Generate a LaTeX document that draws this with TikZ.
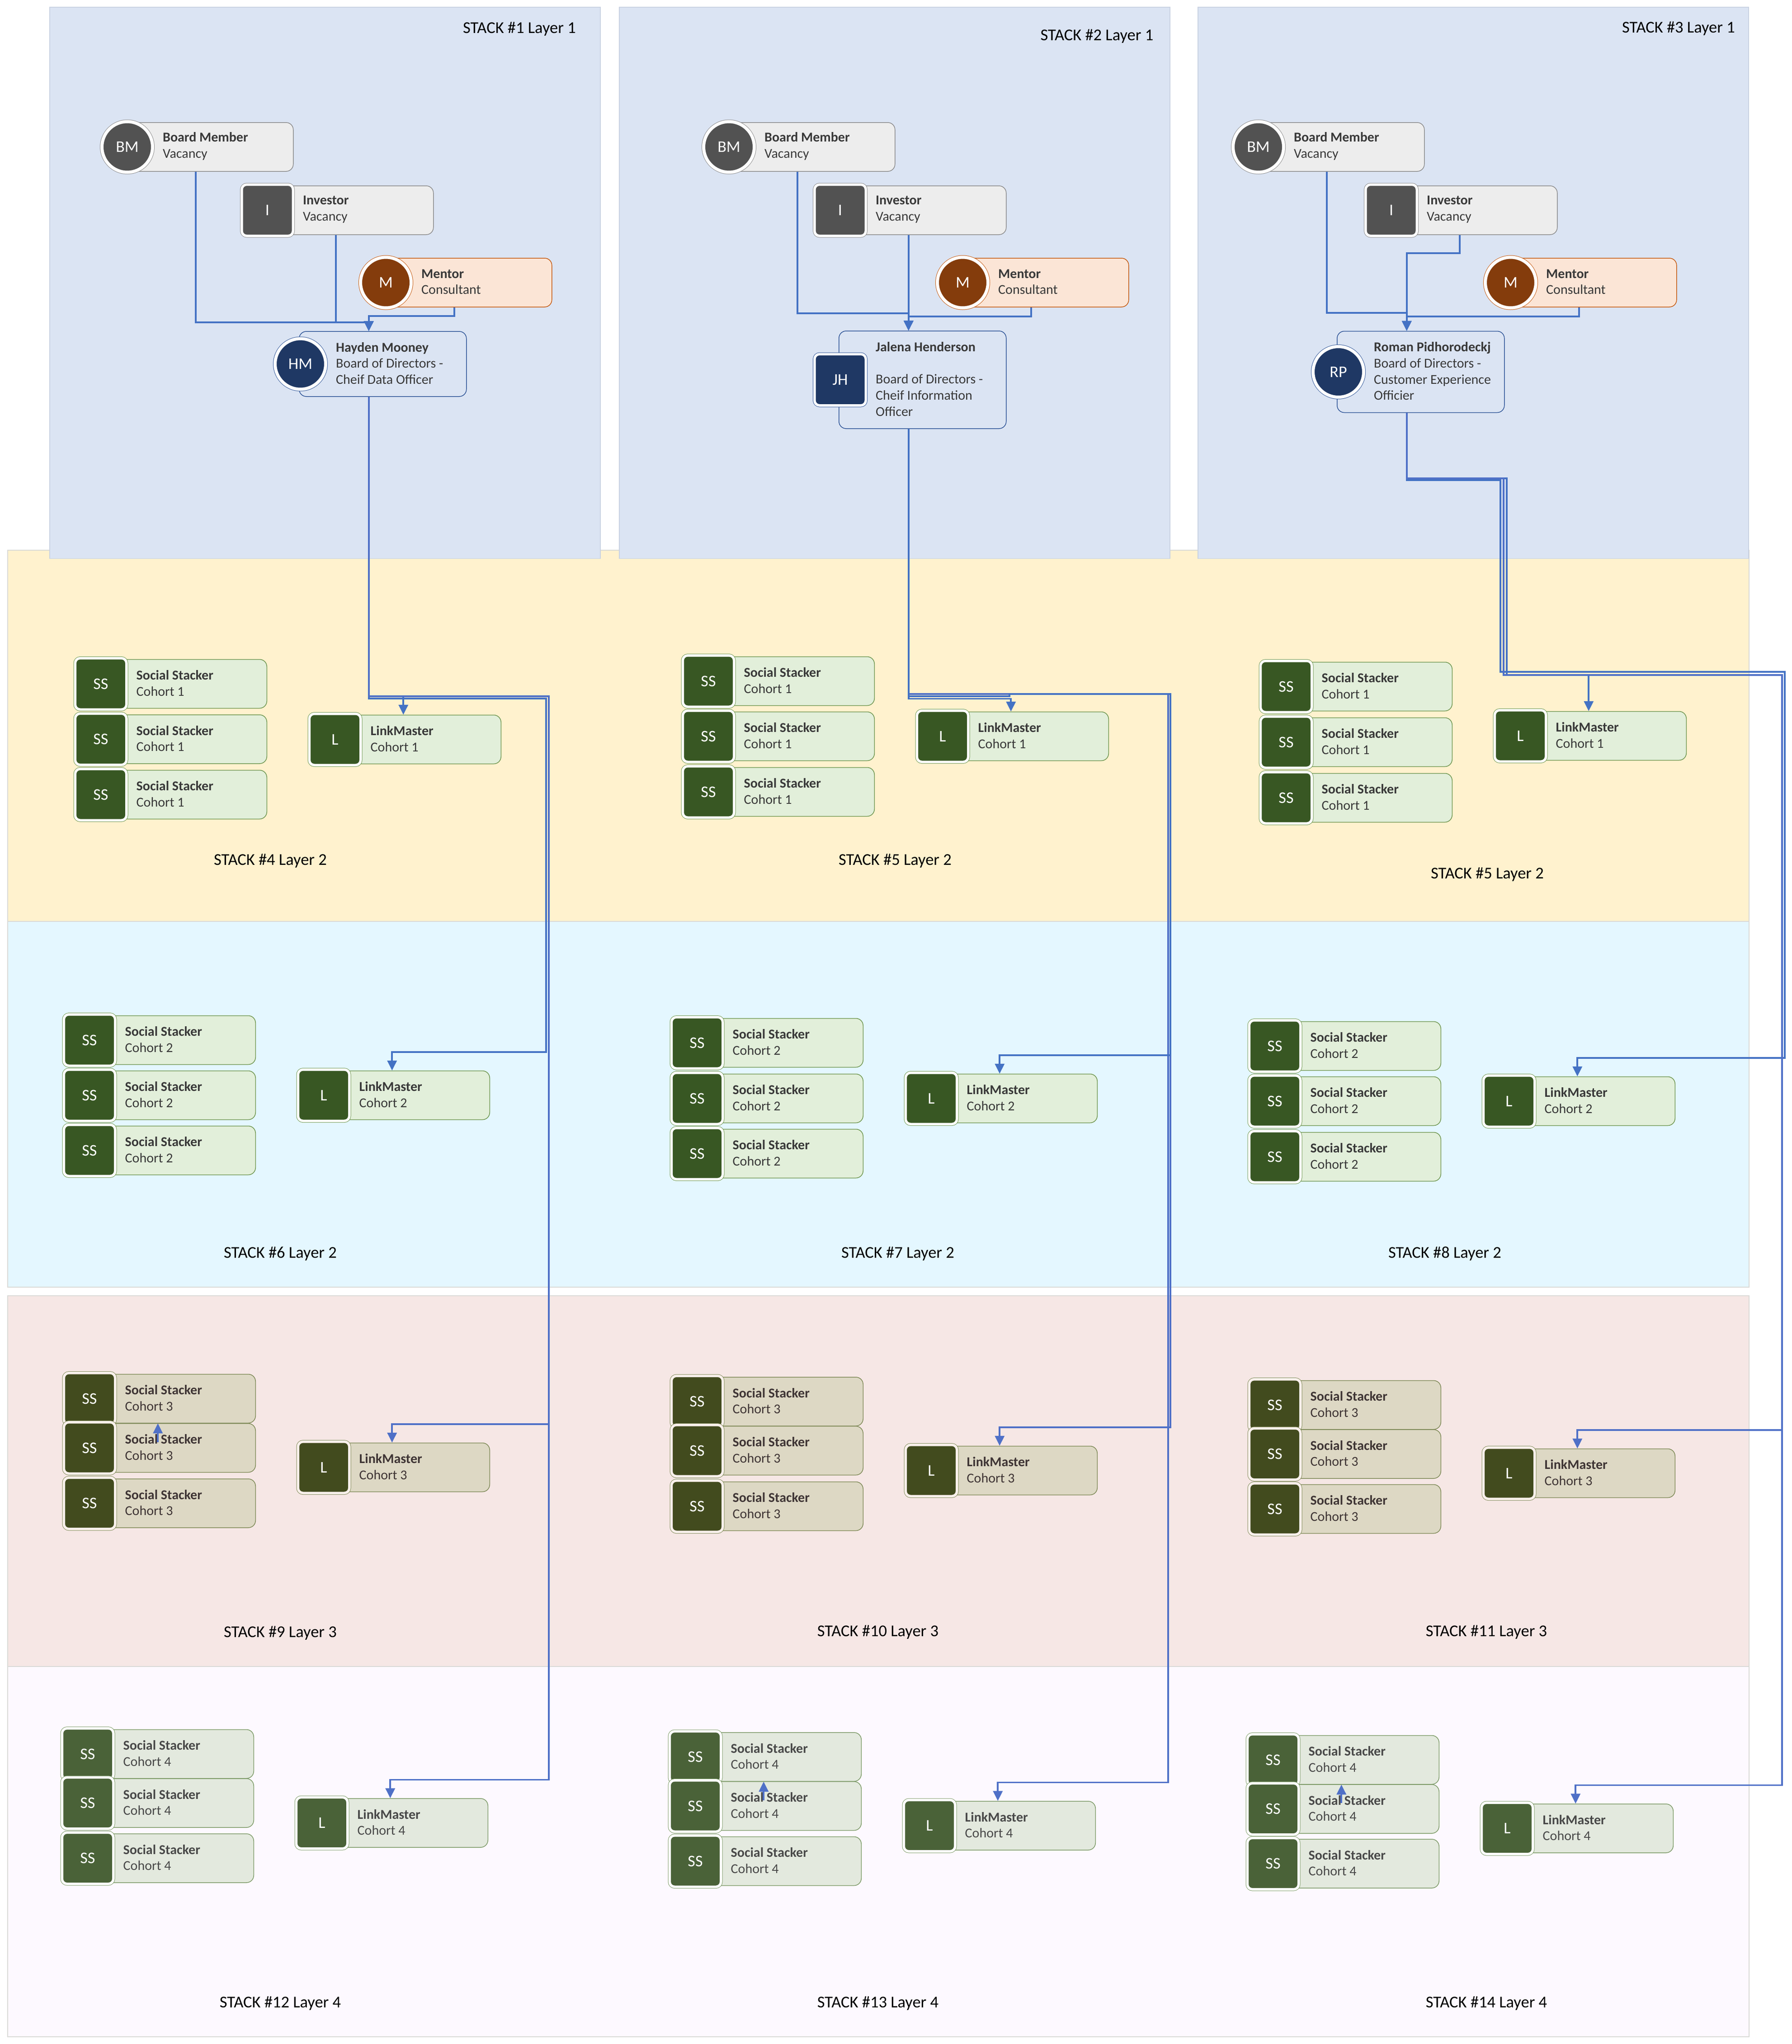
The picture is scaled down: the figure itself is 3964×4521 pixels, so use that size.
\documentclass[tikz,border=0pt]{standalone}
\usepackage{fontspec}
\setmainfont{Carlito}
\usetikzlibrary{arrows.meta}

\definecolor{panelfill}{HTML}{DBE4F3}
\definecolor{paneledge}{HTML}{C9D2E2}
\definecolor{yelband}{HTML}{FFF2CE}
\definecolor{bluband}{HTML}{E4F7FF}
\definecolor{redband}{HTML}{F6E7E5}
\definecolor{purband}{HTML}{FDF9FF}
\definecolor{bandedge}{HTML}{D9D9D6}
\definecolor{linkblue}{HTML}{4472C4}
\definecolor{linklow}{HTML}{4F70C7}
% fill, edge, dark square, ring, ink
\definecolor{greyfill}{HTML}{EDEDED}\definecolor{greyedge}{HTML}{8C8C8C}\definecolor{greydark}{HTML}{525252}\definecolor{greyring}{HTML}{FFFFFF}\definecolor{greyink}{HTML}{383838}
\definecolor{mentfill}{HTML}{FBE5D6}\definecolor{mentedge}{HTML}{C55A11}\definecolor{mentdark}{HTML}{843C0C}\definecolor{mentring}{HTML}{FFFFFF}\definecolor{mentink}{HTML}{383838}
\definecolor{leadfill}{HTML}{DBE4F3}\definecolor{leadedge}{HTML}{2F5597}\definecolor{leaddark}{HTML}{1F3864}\definecolor{leadring}{HTML}{FFFFFF}\definecolor{leadink}{HTML}{383838}
\definecolor{coh1fill}{HTML}{E2EFDA}\definecolor{coh1edge}{HTML}{6F9650}\definecolor{coh1dark}{HTML}{385723}\definecolor{coh1ring}{HTML}{FFFFFF}\definecolor{coh1ink}{HTML}{383838}
\definecolor{coh2fill}{HTML}{E2EFDA}\definecolor{coh2edge}{HTML}{6F9650}\definecolor{coh2dark}{HTML}{385723}\definecolor{coh2ring}{HTML}{FFFFFF}\definecolor{coh2ink}{HTML}{383838}
\definecolor{coh3fill}{HTML}{DDD8C4}\definecolor{coh3edge}{HTML}{7F8A58}\definecolor{coh3dark}{HTML}{424B1E}\definecolor{coh3ring}{HTML}{F9F0EB}\definecolor{coh3ink}{HTML}{3E3434}
\definecolor{coh4fill}{HTML}{E3E9DE}\definecolor{coh4edge}{HTML}{7D9A68}\definecolor{coh4dark}{HTML}{4A6238}\definecolor{coh4ring}{HTML}{FFFFFF}\definecolor{coh4ink}{HTML}{484848}
\colorlet{crewfill}{greyfill}\colorlet{crewedge}{greyedge}\colorlet{crewdark}{greydark}\colorlet{crewring}{greyring}\colorlet{crewink}{greyink}

\newcommand{\tap}{-31pt}
% name, look, badge style, left x, middle y, height, initials, text
\newcommand{\crew}[8]{%
	\node[look=#2, crewbody, minimum height=#6] (#1) at (#4+57,#5) {};
	\node[look=#2, #3] (#1badge) at (#4+60.5,#5) {#7};
	\node[look=#2, crewtext] (#1text) at (#4+139,#5-1.5) {#8};
}

\begin{document}
\begin{tikzpicture}[
		x = 1pt, y = -1pt,
		look/.code = {\colorlet{crewfill}{#1fill}\colorlet{crewedge}{#1edge}\colorlet{crewdark}{#1dark}\colorlet{crewring}{#1ring}\colorlet{crewink}{#1ink}},
		crewbody/.style = {rectangle, rounded corners = 16pt, draw = crewedge, fill = crewfill, line width = 1.5pt, minimum width = 370pt, inner sep = 0pt, anchor = west},
		crewtext/.style = {anchor = west, inner sep = 0pt, align = left, text = crewink, font = \fontsize{30}{35.7}\selectfont},
		squarebadge/.style = {rectangle, rounded corners = 11pt, minimum size = 113.5pt, inner sep = 0pt, line width = 5.5pt, draw = crewring, fill = crewdark, text = white, font = \fontsize{36}{40}\selectfont, preaction = {draw = crewedge, line width = 7.5pt}},
		roundbadge/.style = {circle, minimum size = 112pt, inner sep = 0pt, line width = 7pt, draw = crewring, fill = crewdark, text = white, font = \fontsize{36}{40}\selectfont, preaction = {draw = crewedge, line width = 9pt}},
		panel/.style = {rectangle, anchor = north west, draw = paneledge, fill = panelfill, line width = 1.5pt, inner sep = 0pt, minimum width = 1218pt, minimum height = 1219.5pt},
		band/.style = {rectangle, anchor = north west, draw = bandedge, line width = 1.5pt, inner sep = 0pt, minimum width = 3852pt},
		stacklabel/.style = {inner sep = 0pt, text = black, yshift = -2pt, font = \fontsize{36.5}{40}\selectfont},
		link/.style = {draw = linkblue, line width = 3.6pt, -{Triangle[length = 22pt, width = 21pt]}}]
	\useasboundingbox (0,0) rectangle (3964,4521);

	% Bands
	\foreach \bandname/\bandtop/\bandhigh/\bandfill in {yelpart/1216/821/yelband, blupart/2037/809/bluband, redpart/2865/820/redband, purpart/3685/819/purband}
		\node[band, fill = \bandfill, minimum height = \bandhigh pt] (\bandname) at (16,\bandtop) {};
	\foreach \num/\panelx in {1/109, 2/1369, 3/2649}
		\node[panel] (panel\num) at (\panelx,15) {};

	% Labels
	\node[stacklabel, anchor = east] (label1) at (1274,62.5) {STACK \#1 Layer 1};
	\node[stacklabel, anchor = east] (label2) at (2551.5,78.5) {STACK \#2 Layer 1};
	\node[stacklabel, anchor = east] (label3) at (3838,61) {STACK \#3 Layer 1};
	\node[stacklabel] (label4) at (598,1902) {STACK \#4 Layer 2};
	\node[stacklabel] (label5) at (1980,1902) {STACK \#5 Layer 2};
	\node[stacklabel] (label5b) at (3290,1932) {STACK \#5 Layer 2};
	\node[stacklabel] (label6) at (620,2771) {STACK \#6 Layer 2};
	\node[stacklabel] (label7) at (1986,2771) {STACK \#7 Layer 2};
	\node[stacklabel] (label8) at (3196,2771) {STACK \#8 Layer 2};
	\node[stacklabel] (label9) at (620,3610) {STACK \#9 Layer 3};
	\node[stacklabel] (label10) at (1942,3608) {STACK \#10 Layer 3};
	\node[stacklabel] (label11) at (3288,3608) {STACK \#11 Layer 3};
	\node[stacklabel] (label12) at (620,4429) {STACK \#12 Layer 4};
	\node[stacklabel] (label13) at (1942,4429) {STACK \#13 Layer 4};
	\node[stacklabel] (label14) at (3288,4429) {STACK \#14 Layer 4};

	% Layer 1
	\foreach \col/\bmx/\invx/\menx in {1/221/531/793, 2/1552/1798/2069, 3/2723/3017/3281} {
		\crew{bm\col}{grey}{roundbadge}{\bmx}{325}{108pt}{BM}{\textbf{Board Member}\\Vacancy}
		\crew{inv\col}{grey}{squarebadge}{\invx}{465}{108pt}{I}{\textbf{Investor}\\Vacancy}
		\crew{men\col}{ment}{roundbadge}{\menx}{625}{108pt}{M}{\textbf{Mentor}\\Consultant}
	}
	\crew{hm}{lead}{roundbadge}{604}{805}{144pt}{HM}{\textbf{Hayden Mooney}\\Board of Directors -\\Cheif Data Officer}
	\crew{jh}{lead}{squarebadge}{1798}{840}{216pt}{JH}{\textbf{Jalena Henderson}\\\mbox{}\\Board of Directors -\\Cheif Information\\Officer}
	\crew{rp}{lead}{roundbadge}{2900}{822.5}{180pt}{RP}{\textbf{Roman Pidhorodeckj}\\Board of Directors -\\Customer Experience\\Officier}

	% Layers 2 to 4
	\foreach \id/\sx/\sy/\gapb/\gapc/\ly/\coh in {
			yel1/162.5/1512.5/122.5/245/1635.5/1, yel2/1506.5/1506.5/122/245/1628.5/1, yel3/2784.5/1518.5/123/246/1627.5/1,
			blu1/137.5/2300.5/122/244/2422.5/2, blu2/1481.5/2306.5/123/245/2429.5/2, blu3/2759.5/2313.5/122/245/2435.5/2,
			red1/137.5/3093.5/109/231.5/3245.5/3, red2/1481.5/3100/108.5/231.5/3252.5/3, red3/2759.5/3107.5/108.5/230/3258.5/3,
			pur1/133.5/3879.5/108.5/230.5/4032/4, pur2/1477.5/3886/108.5/230.5/4038/4, pur3/2755.5/3892.5/108.5/229.5/4044/4} {
		\crew{ss\id a}{coh\coh}{squarebadge}{\sx}{\sy}{108pt}{SS}{\textbf{Social Stacker}\\Cohort \coh}
		\crew{ss\id b}{coh\coh}{squarebadge}{\sx}{\sy+\gapb}{108pt}{SS}{\textbf{Social Stacker}\\Cohort \coh}
		\crew{ss\id c}{coh\coh}{squarebadge}{\sx}{\sy+\gapc}{108pt}{SS}{\textbf{Social Stacker}\\Cohort \coh}
		\crew{lm\id}{coh\coh}{squarebadge}{\sx+518}{\ly}{108pt}{L}{\textbf{LinkMaster}\\Cohort \coh}
	}

	% Connectors into the leads
	\draw[link] ([xshift=\tap]bm1.south) -- ++(0,333) -| ([xshift=\tap]hm.north);
	\draw[link] ([xshift=\tap]inv1.south) -- ++(0,193) -| ([xshift=\tap]hm.north);
	\draw[link] ([xshift=\tap]men1.south) -- ++(0,19) -| ([xshift=\tap]hm.north);
	\draw[link] ([xshift=\tap]bm2.south) -- ++(0,313) -| ([xshift=\tap]jh.north);
	\draw[link] ([xshift=\tap]inv2.south) -- ([xshift=\tap]jh.north);
	\draw[link] ([xshift=\tap]men2.south) -- ++(0,20) -| ([xshift=\tap]jh.north);
	\draw[link] ([xshift=\tap]bm3.south) -- ++(0,312) -| ([xshift=\tap]rp.north);
	\draw[link] ([xshift=\tap]inv3.south) -- ++(0,40) -| ([xshift=\tap]rp.north);
	\draw[link] ([xshift=\tap]men3.south) -- ++(0,20) -| ([xshift=\tap]rp.north);

	% Connectors out of the leads
	\draw[link] ([xshift=\tap]hm.south) -- ++(0,662) -| ([xshift=\tap]lmyel1.north);
	\draw[link] ([xshift=\tap]jh.south) -- ++(0,596.6) -| ([xshift=\tap]lmyel2.north);
	\draw[link] ([xshift=\tap]rp.south) -- ++(0,144.5) -- ++(221,0) |- ([xshift=\tap,yshift=80pt]lmyel3.north) -- ([xshift=\tap]lmyel3.north);
	\foreach \from/\to/\down/\over/\tint in {
			hm/lmblu1/667.5/392/linkblue, hm/lmred1/662/398.5/linklow, hm/lmpur1/662/398.5/linklow,
			jh/lmred2/586/579.5/linklow, jh/lmpur2/586/574.5/linklow}
		\draw[link, draw = \tint] ([xshift=\tap]\from.south) -- ++(0,\down) -- ++(\over,0) |- ([xshift=\tap,yshift=41pt]\to.north) -- ([xshift=\tap]\to.north);
	\draw[link] ([xshift=\tap]jh.south) -- ++(0,591) -- ++(223.5,0) -- ++(0,-5) -- ++(355.5,0) |- ([xshift=\tap,yshift=41pt]lmblu2.north) -- ([xshift=\tap]lmblu2.north);
	\draw[link] ([xshift=\tap]rp.south) -- ++(0,149) -- ++(207.5,0) -- ++(0,424) -- ++(628.5,0) |- ([xshift=\tap,yshift=41pt]lmblu3.north) -- ([xshift=\tap]lmblu3.north);
	\foreach \to in {lmred3, lmpur3}
		\draw[link, draw = linklow] ([xshift=\tap]rp.south) -- ++(0,144.5) -- ++(214,0) -- ++(0,435.5) -- ++(616,0) |- ([xshift=\tap,yshift=41pt]\to.north) -- ([xshift=\tap]\to.north);

	% Short arrows inside the stacks
	\foreach \low/\high in {ssred1b/ssred1a, sspur2b/sspur2a, sspur3b/sspur3a}
		\draw[link, draw = linklow] ([xshift=\tap,yshift=13pt]\low.center) -- ([xshift=\tap]\high.south);
\end{tikzpicture}
\end{document}
